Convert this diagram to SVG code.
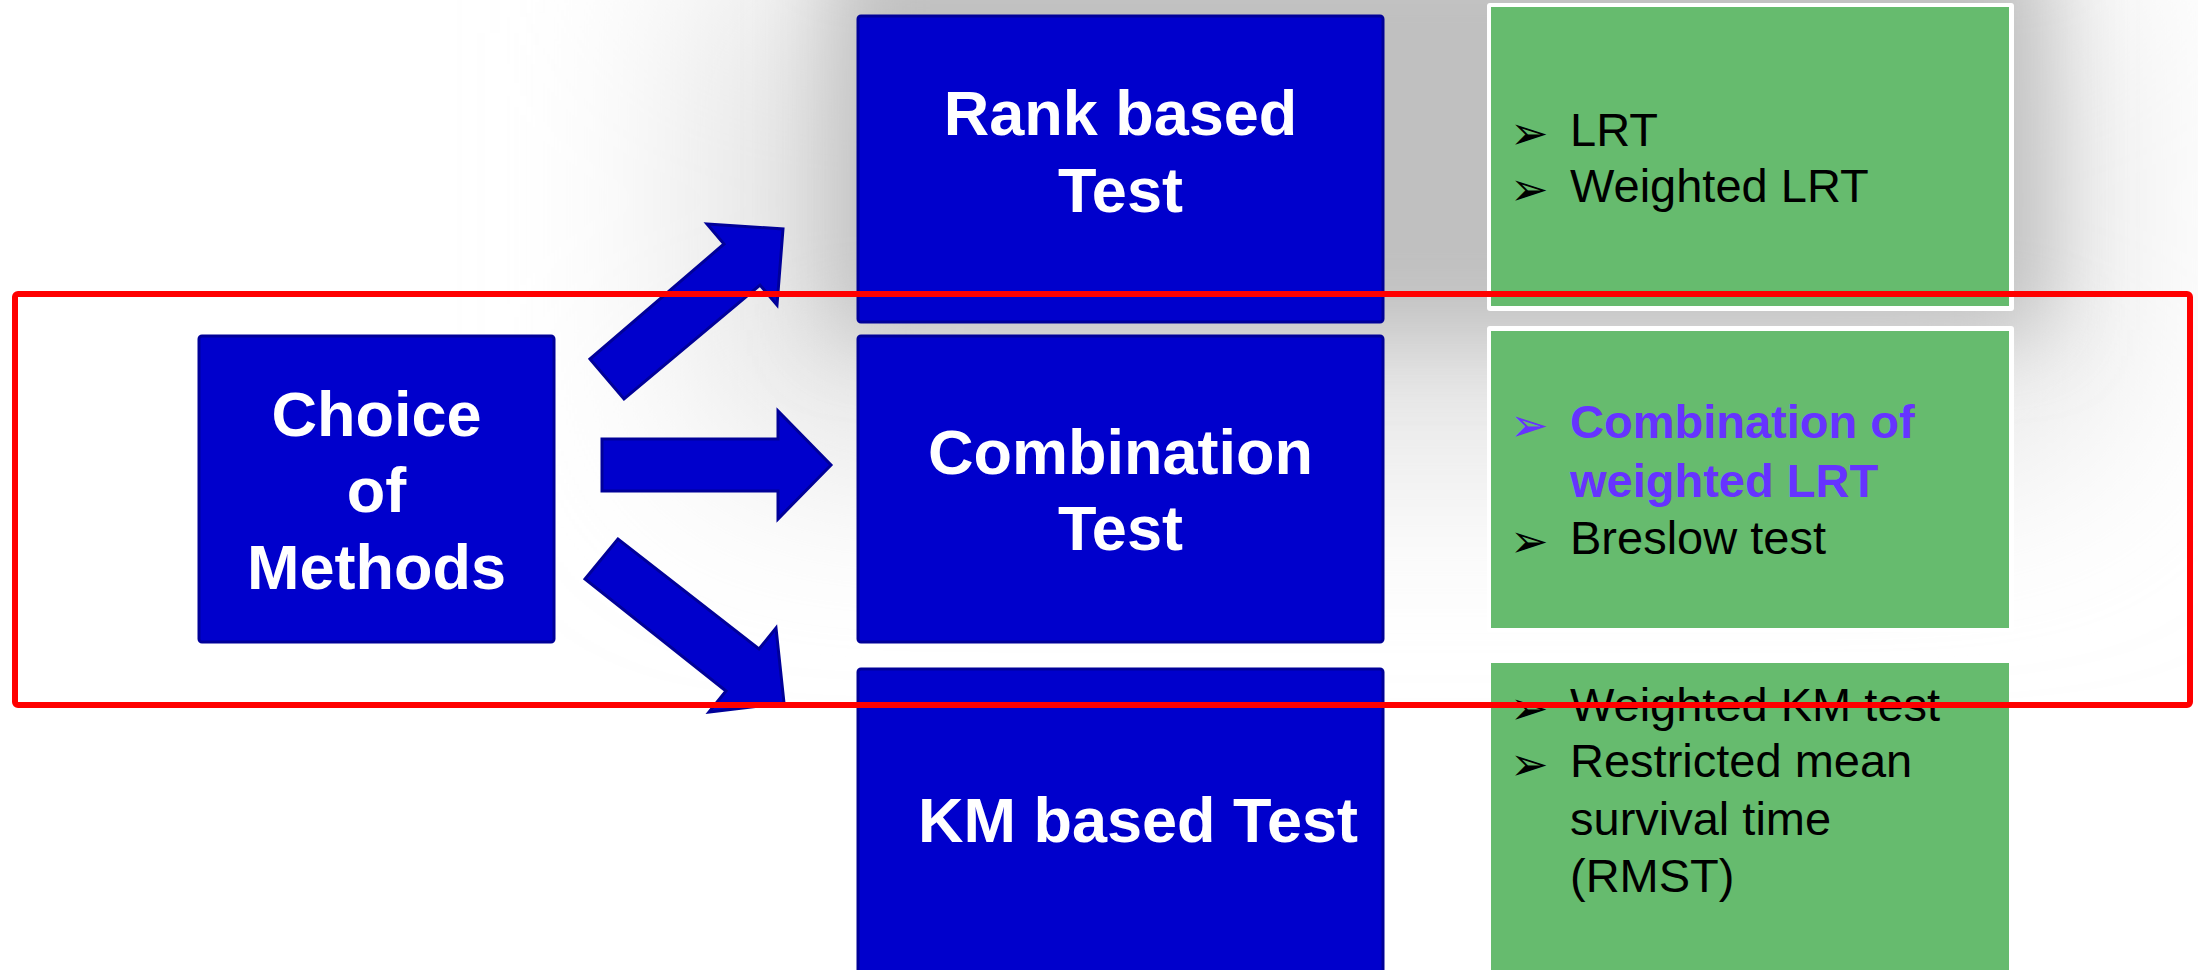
<svg xmlns="http://www.w3.org/2000/svg" width="2198" height="970" viewBox="0 0 2198 970">
<defs>
<style>
.blue{fill:#0000CC;stroke:#000099;stroke-width:3}
.green{fill:#66BB6E}
.gborder{fill:#FFFFFF}
.arrow{fill:#0000CC;stroke:#000099;stroke-width:3;stroke-linejoin:miter}
.ht{font-family:"Liberation Sans",Arial,sans-serif;font-weight:bold;font-size:63px;fill:#FFFFFF;text-anchor:middle}
.bt{font-family:"Liberation Sans",Arial,sans-serif;font-size:47px;fill:#000000}
.pt{font-family:"Liberation Sans",Arial,sans-serif;font-size:47px;font-weight:bold;fill:#6633FF}
.bul{font-family:"DejaVu Sans",sans-serif;font-size:46px;fill:#000000}
.bulp{font-family:"DejaVu Sans",sans-serif;font-size:46px;fill:#6633FF}
</style>
<filter id="blurWide" filterUnits="userSpaceOnUse" x="-400" y="-400" width="3000" height="1400">
<feGaussianBlur stdDeviation="110"/>
</filter>
<filter id="blurTight" filterUnits="userSpaceOnUse" x="-400" y="-400" width="3000" height="1400">
<feGaussianBlur stdDeviation="40"/>
</filter>
</defs>
<rect x="0" y="0" width="2198" height="970" fill="#FFFFFF"/>
<g id="shadow">
<rect x="720" y="-40" width="1360" height="480" fill="#DCDCDC" filter="url(#blurWide)"/>
<rect x="835" y="-60" width="1210" height="390" fill="#C0C0C0" filter="url(#blurTight)"/>
</g>
<g id="connectors">
<polygon class="arrow" points="590,359 624,399 760,285 777,305 783,229 707,224 724,244"/>
<polygon class="arrow" points="602,439 778,439 778,411 831,465 778,519 778,491 602,491"/>
<polygon class="arrow" points="618,539 585,579 726,691 709,712 784,703 776,628 759,649"/>
</g>
<g id="choice">
<rect class="blue" x="199" y="336" width="355" height="306" rx="3"/>
<text class="ht" x="376.5" y="436">Choice</text>
<text class="ht" x="376.5" y="512">of</text>
<text class="ht" x="376.5" y="589">Methods</text>
</g>
<g id="rank">
<rect class="blue" x="858" y="16" width="525" height="306" rx="3"/>
<text class="ht" x="1120.5" y="135">Rank based</text>
<text class="ht" x="1120.5" y="212">Test</text>
</g>
<g id="combination">
<rect class="blue" x="858" y="336" width="525" height="306" rx="3"/>
<text class="ht" x="1120.5" y="474">Combination</text>
<text class="ht" x="1120.5" y="550">Test</text>
</g>
<g id="km">
<rect class="blue" x="858" y="669" width="525" height="320" rx="3"/>
<text class="ht" x="1138" y="842">KM based Test</text>
</g>
<g id="rank-list">
<rect class="gborder" x="1487" y="3" width="527" height="308" rx="3"/>
<rect class="green" x="1491" y="7" width="518" height="299"/>
<text class="bul" x="1510" y="149">➢</text>
<text class="bt" x="1570" y="146">LRT</text>
<text class="bul" x="1510" y="205">➢</text>
<text class="bt" x="1570" y="202">Weighted LRT</text>
</g>
<g id="combination-list">
<rect class="gborder" x="1487" y="326" width="527" height="306" rx="3"/>
<rect class="green" x="1491" y="331" width="518" height="297"/>
<text class="bulp" x="1510" y="441">➢</text>
<text class="pt" x="1570" y="438">Combination of</text>
<text class="pt" x="1570" y="497">weighted LRT</text>
<text class="bul" x="1510" y="557">➢</text>
<text class="bt" x="1570" y="554">Breslow test</text>
</g>
<g id="km-list">
<rect class="green" x="1491" y="663" width="518" height="320"/>
<text class="bul" x="1510" y="724">➢</text>
<text class="bt" x="1570" y="721">Weighted KM test</text>
<text class="bul" x="1510" y="780">➢</text>
<text class="bt" x="1570" y="777">Restricted mean</text>
<text class="bt" x="1570" y="835">survival time</text>
<text class="bt" x="1570" y="892">(RMST)</text>
</g>
<rect id="highlight" x="15" y="294" width="2175" height="411" rx="3" fill="none" stroke="#FF0000" stroke-width="6"/>
</svg>
